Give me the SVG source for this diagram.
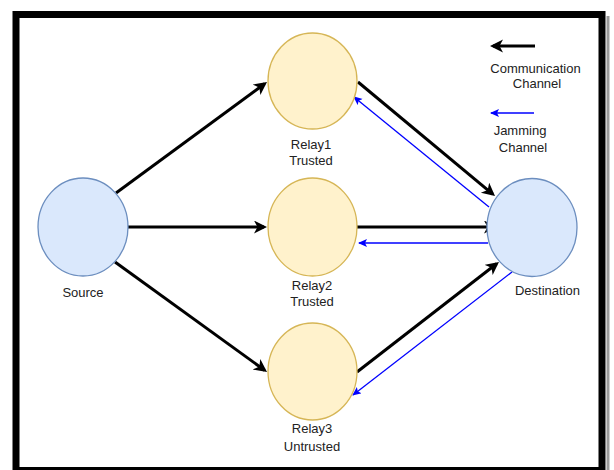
<svg xmlns="http://www.w3.org/2000/svg" width="614" height="470" viewBox="0 0 614 470">
<style>
.t{font-family:"Liberation Sans",Arial,sans-serif;font-size:13px;fill:#222;text-anchor:middle}
.relay{fill:#fff2cc;stroke:#d6b656;stroke-width:1.3}
.end{fill:#dae8fc;stroke:#6c8ebf;stroke-width:1.3}
.comm{stroke:#000;stroke-width:3;fill:none;marker-end:url(#ab)}
.jam{stroke:#0000ff;stroke-width:1.3;fill:none;marker-end:url(#aj)}
</style>
<defs>
<marker id="ab" markerUnits="userSpaceOnUse" markerWidth="14" markerHeight="14" refX="10" refY="6.5" orient="auto">
<path d="M0,0 L13,6.5 L0,13 L3.5,6.5 Z" fill="#000"/>
</marker>
<marker id="aj" markerUnits="userSpaceOnUse" markerWidth="10" markerHeight="10" refX="8" refY="4" orient="auto">
<path d="M0,0 L9,4 L0,8 L2,4 Z" fill="#0000ff"/>
</marker>
</defs>
<rect width="614" height="470" fill="#fff"/>
<line x1="608" y1="16" x2="608" y2="470" stroke="#999" stroke-width="3"/>
<rect x="16" y="14.5" width="586" height="456" fill="none" stroke="#000" stroke-width="7"/>
<g id="connectors">
<line class="comm" x1="116" y1="193" x2="264.6" y2="83.8"/>
<line class="comm" x1="128" y1="227" x2="264" y2="227"/>
<line class="comm" x1="115" y1="262" x2="264.6" y2="370.2"/>
<line class="comm" x1="358" y1="82" x2="492.7" y2="194.1"/>
<line class="comm" x1="357" y1="227" x2="494" y2="227"/>
<line class="comm" x1="357" y1="372" x2="496.6" y2="263.8"/>
<line class="jam" x1="489" y1="207" x2="354" y2="97"/>
<line class="jam" x1="488" y1="243" x2="359" y2="243"/>
<line class="jam" x1="512" y1="272" x2="353" y2="395"/>
</g>
<g id="legend">
<line class="comm" x1="535" y1="46" x2="493" y2="46"/>
<text class="t" x="535.5" y="72.5">Communication</text>
<text class="t" x="537" y="88">Channel</text>
<line class="jam" x1="534" y1="113" x2="491" y2="113"/>
<text class="t" x="520" y="134.5">Jamming</text>
<text class="t" x="523" y="151.5">Channel</text>
</g>
<g id="source">
<ellipse class="end" cx="83" cy="227" rx="45" ry="49"/>
<text class="t" x="83" y="296.5">Source</text>
</g>
<g id="relay1">
<ellipse class="relay" cx="312.5" cy="81" rx="44.5" ry="48"/>
<text class="t" x="311" y="148.5">Relay1</text>
<text class="t" x="311" y="164.5">Trusted</text>
</g>
<g id="relay2">
<ellipse class="relay" cx="312.5" cy="227" rx="44.5" ry="49"/>
<text class="t" x="312" y="289.5">Relay2</text>
<text class="t" x="312" y="305.5">Trusted</text>
</g>
<g id="relay3">
<ellipse class="relay" cx="312.5" cy="371.5" rx="44.5" ry="48.5"/>
<text class="t" x="312" y="432.5">Relay3</text>
<text class="t" x="312" y="450.5">Untrusted</text>
</g>
<g id="destination">
<ellipse class="end" cx="532" cy="227.5" rx="45" ry="49"/>
<text class="t" x="547.5" y="294.5">Destination</text>
</g>
</svg>
